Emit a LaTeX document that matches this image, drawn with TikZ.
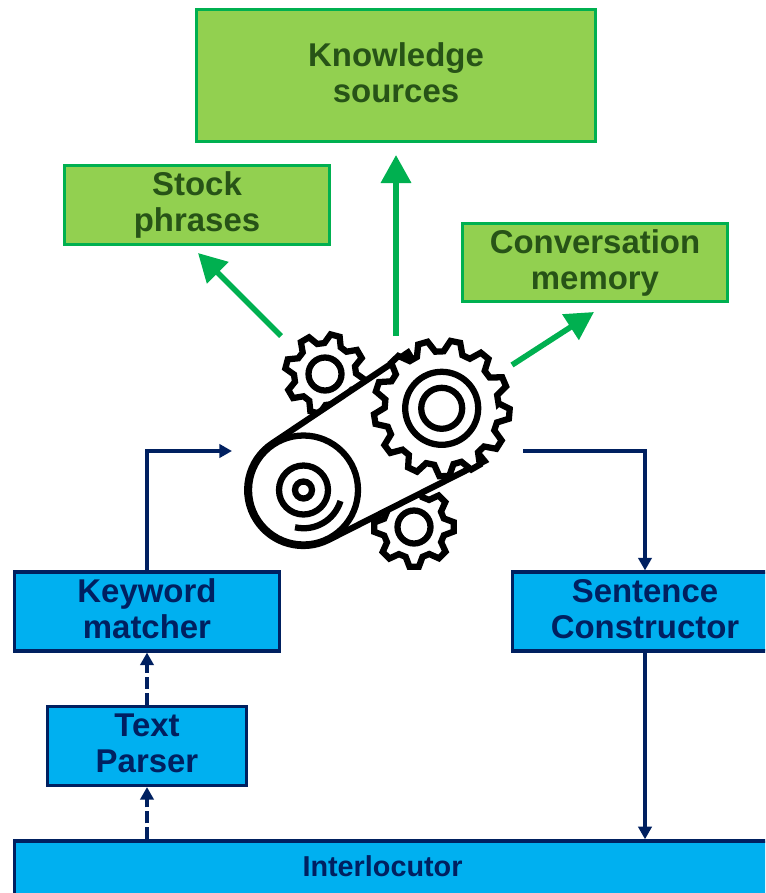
\documentclass[tikz,border=0pt]{standalone}
\usepackage{fontspec}
\setmainfont{Liberation Sans}
\usetikzlibrary{arrows.meta,calc}
\definecolor{gfill}{HTML}{92D050}
\definecolor{gline}{HTML}{00B050}
\definecolor{gtext}{HTML}{275317}
\definecolor{bfill}{HTML}{00B0F0}
\definecolor{bline}{HTML}{002060}
\tikzset{
  lbl/.style={font=\bfseries\fontsize{24.7pt}{27pt}\selectfont,inner sep=0pt},
  greenbox/.style={lbl,draw=gline,fill=gfill,text=gtext,line width=2.4pt},
  bluebox/.style={lbl,draw=bline,fill=bfill,text=bline,line width=2.6pt},
  greenarrow/.style={draw=gline,line width=4.2pt,-{Triangle[length=21pt,width=22pt]}},
  bluearrow/.style={draw=bline,line width=2.6pt,-{Triangle[length=9.5pt,width=10pt]}},
  dasharrow/.style={bluearrow,dash pattern=on 9pt off 3pt},
  gearline/.style={draw=black,line width=4.7pt,line join=miter},
}
\newcommand{\lifted}[1]{\raisebox{-1.2pt}[\height][\depth]{\begin{tabular}{@{}c@{}}#1\end{tabular}}}
\newcommand{\gearshape}[6]{%
  \pgfmathtruncatemacro{\teethsteps}{4*#5}%
  \draw[gearline,fill=white,shift={(#1,#2)}]
    plot[samples at={0,...,\teethsteps},variable=\k]
      ({#6+360/#5*(floor(\k/4)+(mod(\k,4)==1)*0.2+(mod(\k,4)==2)*0.5+(mod(\k,4)==3)*0.7)}:
       {(mod(\k,4)==1||mod(\k,4)==2)?#3:#4}) -- cycle;
}
\begin{document}
\begin{tikzpicture}[x=0.75pt,y=-0.75pt]
\useasboundingbox (0,0) rectangle (765,893);
\clip (0,0) rectangle (765,893);
% boxes
\node[greenbox,minimum width=299pt,minimum height=99pt] (know) at (396,75.5) {\lifted{Knowledge\\sources}};
\node[greenbox,minimum width=199pt,minimum height=59pt] (stock) at (197,205) {\lifted{Stock\\phrases}};
\node[greenbox,minimum width=199pt,minimum height=59pt] (conv) at (595,262.5) {\lifted{Conversation\\memory}};
\node[bluebox,minimum width=199pt,minimum height=59pt] (key) at (147,611.5) {\lifted{Keyword\\matcher}};
\node[bluebox,minimum width=199pt,minimum height=59pt] (sent) at (645,611.5) {\lifted{Sentence\\Constructor}};
\node[bluebox,minimum width=149pt,minimum height=59pt] (parse) at (147,746) {\lifted{Text\\Parser}};
\node[bluebox,minimum width=570pt,minimum height=42pt] (inter) at (394.5,869) {\fontsize{21.6pt}{27pt}\selectfont\begin{tabular}{@{}c@{}}Interlocutor\end{tabular}\kern18pt};
% gears
\gearshape{325}{374}{40}{31}{8}{-1}
\gearshape{414}{527}{40}{31}{8}{-16}
\coordinate (bigc) at (441.7,408.3);
\coordinate (pulc) at (303.5,490);
\coordinate (b2) at (408,352.5);
\coordinate (b3) at (484.5,461);
\coordinate (t1) at (272.7,443);
\draw[gearline,fill=white] (b2) -- (t1) arc[start angle=237,end angle=63.4,radius=56] -- (b3) -- (bigc) -- cycle;
\fill[white] (bigc) circle[radius=30];
\gearshape{441.7}{408.3}{68}{57}{13}{-5}
\draw[gearline] (bigc) circle[radius=36.5];
\draw[gearline] (bigc) circle[radius=20.5];
\draw[gearline] (pulc) circle[radius=54.5];
\draw[gearline] (pulc) circle[radius=24.5];
\draw[gearline] (pulc) circle[radius=8.5];
\draw[gearline] ($(pulc)+(37,11)$) arc[start angle=17,end angle=103,radius=38.5];
\draw[gearline,fill=white] (325,374) circle[radius=16.5];
\draw[gearline,fill=white] (414,527) circle[radius=16.5];
% free ends at the gear group
\coordinate (gStock) at (281,336);
\coordinate (gKnow) at (396,336);
\coordinate (gConv) at (512,365);
\coordinate (gIn) at (232,451);
\coordinate (gOut) at (523,451);
% connectors
\draw[greenarrow] (gStock) -- (198,253);
\draw[greenarrow] (gKnow) -- (396,155);
\draw[greenarrow] (gConv) -- (594,312);
\draw[bluearrow] (key.north) |- (gIn);
\draw[bluearrow] (gOut) -| (sent.north);
\draw[bluearrow] (sent.south) -- (sent.south |- inter.north);
\draw[dasharrow] (parse.north) -- (key.south);
\draw[dasharrow] (parse.south |- inter.north) -- (parse.south);
\end{tikzpicture}
\end{document}
